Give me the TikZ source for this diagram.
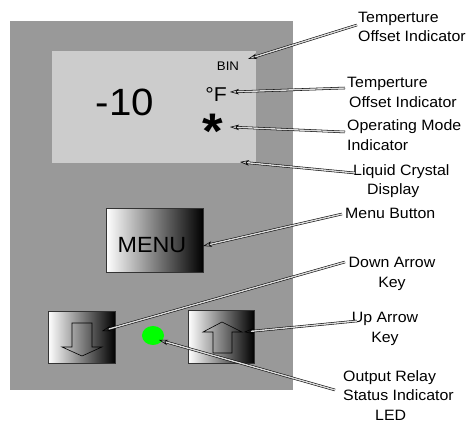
\documentclass[tikz,border=0pt]{standalone}
\usepackage{fontspec}
\setmainfont{Liberation Sans}[FakeStretch=1.06]
\usetikzlibrary{arrows.meta,shapes.geometric}
\definecolor{panelgray}{HTML}{999999}
\definecolor{lcdgray}{HTML}{CCCCCC}
\definecolor{ledgreen}{HTML}{00FF00}
\tikzset{
  lbl/.style={inner sep=0pt, font=\fontsize{15}{19.5}\selectfont},
  keybox/.style={draw=black!80, line width=0.5pt, left color=white, right color=black},
  keyarrow/.style={draw=black, line width=0.6pt},
  callout/.style={draw=black, line width=0.55pt, double=black!15, double distance=1.4pt,
    -{Stealth[open, length=9pt, width=5.5pt, inset=2.5pt]}},
}
\begin{document}
\begin{tikzpicture}[x=1pt, y=-1pt]
\useasboundingbox (0,0) rectangle (472,425);
\fill[white] (0,0) rectangle (472,425);
% panel and LCD
\fill[panelgray] (10,21) rectangle (293,390);
\node[fill=lcdgray, inner sep=0pt, minimum width=204pt, minimum height=112pt, anchor=north west] (lcd) at (52,51) {};
% display contents
\node[inner sep=0pt, anchor=base, font=\fontsize{38}{38}\selectfont] (value) at (125,116) {-10};
\node[inner sep=0pt, anchor=base, font=\fontsize{12.5}{12.5}\selectfont] (bin) at (228,71) {BIN};
\node[inner sep=0pt, anchor=base, font=\fontsize{20}{20}\selectfont] (degf) at (216,102) {°F};
\node[inner sep=0pt, anchor=north, font=\fontsize{50}{50}\bfseries] (star) at (212.5,114) {*};
% buttons
\node[keybox, inner sep=0pt, minimum width=97pt, minimum height=64pt, anchor=north west] (menu) at (106,208) {};
\node[inner sep=0pt, anchor=base, font=\fontsize{22}{22}\selectfont] (menutext) at (152,253) {MENU};
\node[keybox, inner sep=0pt, minimum width=67pt, minimum height=52pt, anchor=north west] (down) at (48,311) {};
\node[keybox, inner sep=0pt, minimum width=66pt, minimum height=53pt, anchor=north west] (up) at (188,310) {};
\draw[keyarrow] (72,323) -- (92,323) -- (92,347) -- (102,347) -- (82,356) -- (62,347) -- (72,347) -- cycle;
\draw[keyarrow] (213,353) -- (232,353) -- (232,332) -- (242,332) -- (222,322) -- (203,332) -- (213,332) -- cycle;
% LED
\node[fill=ledgreen, ellipse, inner sep=0pt, minimum width=22pt, minimum height=19pt] (led) at (153,335.5) {};
% labels
\node[lbl, anchor=north west, align=left] (l1) at (358,11.8) {Temperture\\Offset Indicator};
\node[lbl, anchor=north west, align=left] (l2) at (347,77.2) {Temperture\\\hspace*{2pt}Offset Indicator};
\node[lbl, anchor=north west, align=left] (l3) at (347,119.8) {Operating Mode\\Indicator};
\node[lbl, anchor=north west, align=left] (l4) at (353,164.2) {Liquid Crystal\\\hspace*{14pt}Display};
\node[lbl, anchor=north west] (l5) at (345,208.2) {Menu Button};
\node[lbl, anchor=north, align=center] (l6) at (392,257.2) {Down Arrow\\Key};
\node[lbl, anchor=north, align=center] (l7) at (385,312.2) {Up Arrow\\Key};
\node[lbl, anchor=north west, align=left] (l8) at (343,370.2) {Output Relay\\Status Indicator\\\hspace*{32pt}LED};
% connector ends
\coordinate (t1) at (357,25);   \coordinate (h1) at (248,59);
\coordinate (t2) at (345,88);   \coordinate (h2) at (230,92);
\coordinate (t3) at (345,132);  \coordinate (h3) at (230,127);
\coordinate (t4) at (355,173);  \coordinate (h4) at (240,162);
\coordinate (t5) at (342,214);  \coordinate (h5) at (203,246);
\coordinate (t6) at (345,262);  \coordinate (h6) at (102,331);
\coordinate (t7) at (357,321);  \coordinate (h7) at (244,332);
\coordinate (t8) at (335,390);  \coordinate (h8) at (159,340);
\foreach \i in {1,...,8} { \draw[callout] (t\i) -- (h\i); }
\end{tikzpicture}
\end{document}
